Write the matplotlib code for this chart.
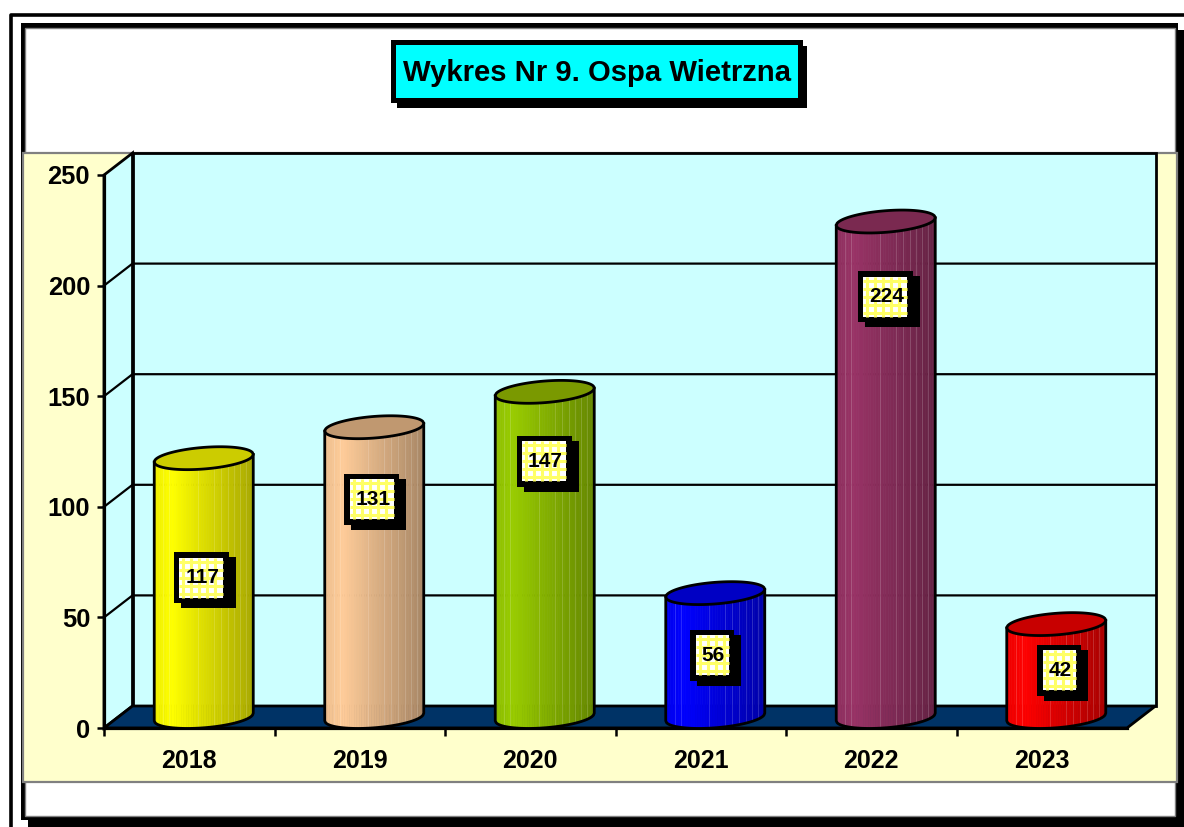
import numpy as np
import matplotlib
matplotlib.use("Agg")
import matplotlib.pyplot as plt
from matplotlib.patches import Rectangle, Polygon

plt.rcParams['font.family'] = ['Liberation Sans', 'DejaVu Sans']

TITLE = "Wykres Nr 9. Ospa Wietrzna"
years = ["2018", "2019", "2020", "2021", "2022", "2023"]
cases = [117, 131, 147, 56, 224, 42]
label_heights = [68, 103.5, 120.5, 33, 195, 26]
label_shift_px = [-1.5, -1.5, 0.5, -2, 0.5, 4]
side_colors = ["#FFFF00", "#FFCC99", "#99CC00", "#0000FF", "#993366", "#FF0000"]
top_colors = ["#CCCC00", "#C09870", "#7A9900", "#0000C4", "#7A2950", "#C80000"]
yticks = [0, 50, 100, 150, 200, 250]

W, H, DPI = 1184, 827, 100
fig = plt.figure(figsize=(W / DPI, H / DPI), dpi=DPI, facecolor="white")

# page furniture in pixel coordinates
bg = fig.add_axes([0, 0, 1, 1], zorder=0)
bg.set_xlim(0, W); bg.set_ylim(H, 0); bg.axis("off")
def box(a, x0, y0, x1, y1, fc, ec="none", lw=0, z=1):
    a.add_patch(Rectangle((x0, y0), x1 - x0, y1 - y0, fc=fc, ec=ec, lw=lw, zorder=z))

# outer thin frame
bg.plot([10.5, 10.5, W], [H, 14.5, 14.5], color="black", lw=2.6, solid_capstyle="butt", zorder=1)
# chart panel, with drop shadow
box(bg, 28, 30, W, H, "black", z=2)
box(bg, 21, 23, 1178, 820, "black", z=3)
box(bg, 25, 28, 1175, 816, "white", ec="#808080", lw=1, z=4)
# beige plot area
box(bg, 23, 153, 1177, 782, "#FFFFCC", ec="#808080", lw=1.6, z=5)
# title box
box(bg, 397, 46, 807, 108, "black", z=6)
box(bg, 391, 40, 803, 103, "black", z=7)
box(bg, 396, 45, 798, 98, "#00FFFF", z=8)
bg.text(597, 73, TITLE, ha="center", va="center", fontsize=21.1, fontweight="bold", zorder=9)

# data axes: the front plane of the 3-D chart
LEFT, RIGHT, Y0, Y250 = 104, 1127, 728, 175
ax = fig.add_axes([LEFT / W, 1 - Y0 / H, (RIGHT - LEFT) / W, (Y0 - Y250) / H], zorder=1)
ax.patch.set_alpha(0)
ax.set_xlim(0, len(years))
ax.set_ylim(0, max(yticks))
ux = len(years) / (RIGHT - LEFT)            # data units per pixel
uy = max(yticks) / (Y0 - Y250)
DX, DY = 28.5 * ux, 22 * uy                 # depth of the 3-D box
n = len(years)
LW = 2.0

# walls and floor
ax.add_patch(Polygon([(DX, DY), (n + DX, DY), (n + DX, 250 + DY), (DX, 250 + DY)],
                     fc="#CCFFFF", ec="black", lw=LW, clip_on=False, zorder=1))
ax.add_patch(Polygon([(0, 0), (DX, DY), (DX, 250 + DY), (0, 250)],
                     fc="#CCFFFF", ec="black", lw=LW, clip_on=False, zorder=1))
ax.add_patch(Polygon([(0, 0), (DX, DY), (n + DX, DY), (n, 0)],
                     fc="#003366", ec="black", lw=LW, clip_on=False, zorder=1.5))
for v in yticks[1:-1]:
    ax.plot([0, DX, n + DX], [v, v + DY, v + DY], color="black", lw=1.6,
            clip_on=False, zorder=2)

# cylinders
A, B, S = 49.5 * ux, 10.8 * uy, 3.8 * uy    # half-width, half-height, tilt
CX, CY = 14.5 * ux, 11 * uy                 # centre of cylinder inside the depth
def arc(x, sign):
    return sign * B * np.sqrt(np.clip(1 - (x / A) ** 2, 0, 1)) + S * x / A
shade_u = [0, 0.18, 1]
shade_f = [0.93, 1.0, 0.66]
stripe_u = [0.09, 0.15, 0.44, 0.60, 0.67, 0.74, 0.81, 0.87, 0.93]
def rgb(c):
    return np.array(matplotlib.colors.to_rgb(c))

for i, (v, sc, tc) in enumerate(zip(cases, side_colors, top_colors)):
    xc = i + 0.5 + CX
    edges = np.linspace(-A, A, 41)
    for x0, x1 in zip(edges[:-1], edges[1:]):
        xs = np.linspace(x0, x1, 4)
        u = ((x0 + x1) / 2 + A) / (2 * A)
        col = rgb(sc) * np.interp(u, shade_u, shade_f)
        px = np.r_[xs, xs[::-1]] + xc
        py = np.r_[v + CY + arc(xs, -1), (CY + arc(xs, -1))[::-1]]
        ax.fill(px, py, color=col, lw=0.5, zorder=3, clip_on=False)
    for u in stripe_u:
        x = -A + 2 * A * u
        ax.plot([xc + x] * 2, [CY + arc(x, -1), v + CY + arc(x, -1)], color="white",
                alpha=0.16, lw=0.7, zorder=3.1, clip_on=False)
    # outline of side and bottom
    t = np.linspace(-A, A, 120)
    ax.plot(np.r_[xc - A, xc + t, xc + A],
            np.r_[v + CY + arc(-A, 1), CY + arc(t, -1), v + CY + arc(A, 1)],
            color="black", lw=LW, zorder=3.2, clip_on=False)
    # top ellipse
    ax.add_patch(Polygon(np.c_[np.r_[xc + t, xc + t[::-1]],
                               np.r_[v + CY + arc(t, -1), v + CY + arc(t[::-1], 1)]],
                         fc=tc, ec="black", lw=LW, zorder=3.3, clip_on=False))
    # value label
    lx = i + 0.5 + CX - 1 * ux + (label_shift_px[i]) * ux
    ly = label_heights[i]
    hw = (27.5 if v >= 100 else 22) * ux
    hh = 25.5 * uy
    ax.add_patch(Rectangle((lx - hw + 7 * ux, ly - hh - 5 * uy), 2 * hw, 2 * hh, fc="black",
                           zorder=4, clip_on=False))
    ax.add_patch(Rectangle((lx - hw, ly - hh), 2 * hw, 2 * hh, fc="black", zorder=4.1, clip_on=False))
    bx, by = hw - 5.5 * ux, hh - 5.5 * uy
    ax.add_patch(Rectangle((lx - bx, ly - by), 2 * bx, 2 * by, fc="white", zorder=4.2, clip_on=False))
    for gx in np.arange(-bx + 4 * ux, bx, 8 * ux):
        ax.plot([lx + gx] * 2, [ly - by, ly + by], color="#FFFF66", lw=2.2,
                solid_capstyle="butt", zorder=4.3, clip_on=False)
    for gy in np.arange(-by + 4 * uy, by, 8 * uy):
        ax.plot([lx - bx, lx + bx], [ly + gy] * 2, color="#FFFF66", lw=2.2,
                solid_capstyle="butt", zorder=4.3, clip_on=False)
    ax.text(lx + 1 * ux, ly, str(v), ha="center", va="center", fontsize=15, fontweight="bold",
            zorder=5, clip_on=False)

# axes, ticks and tick labels
for s in ("top", "right"):
    ax.spines[s].set_visible(False)
for s in ("left", "bottom"):
    ax.spines[s].set_linewidth(LW + 0.3)
    ax.spines[s].set_zorder(2.5)
ax.set_yticks(yticks)
ax.set_yticklabels([str(t) for t in yticks], fontsize=18.4, fontweight="bold")
ax.tick_params(axis="y", length=5, width=1.8, pad=5)
ax.set_xticks(range(n))
ax.set_xticklabels([])
ax.tick_params(axis="x", which="major", length=5.5, width=1.8)
ax.set_xticks([i + 0.5 for i in range(n)], minor=True)
ax.set_xticklabels(years, minor=True, fontsize=18, fontweight="bold")
ax.tick_params(axis="x", which="minor", length=0, pad=15)

fig.savefig("out.png", dpi=DPI, facecolor="white")
